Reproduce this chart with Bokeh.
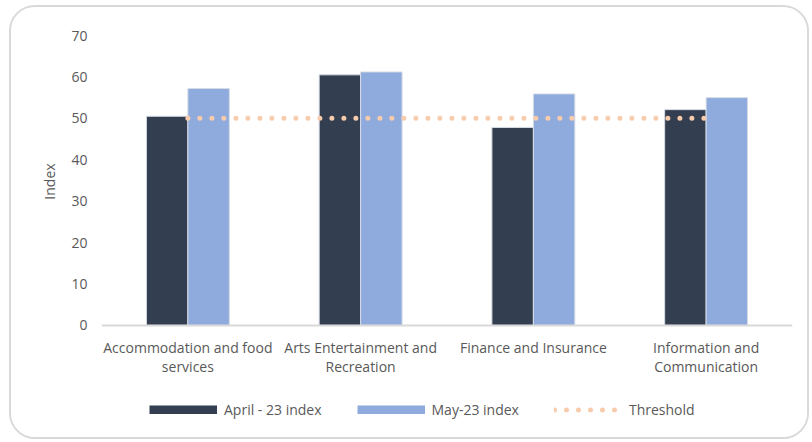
from bokeh.plotting import figure
from bokeh.models import (ColumnDataSource, Range1d, FactorRange, Legend, LegendItem,
                          LabelSet, Span)
from bokeh.core.properties import value
from bokeh.layouts import column
from bokeh.transform import dodge
from bokeh.embed import file_html
from bokeh.resources import INLINE

categories = ["Accommodation and food\nservices", "Arts Entertainment and\nRecreation",
              "Finance and Insurance", "Information and\nCommunication"]
april_23 = [50.5, 60.5, 47.8, 52.1]
may_23 = [57.2, 61.2, 55.9, 55.0]
threshold = [50, 50, 50, 50]
y_ticks = [0, 10, 20, 30, 40, 50, 60, 70]

FONT = "Open Sans"
TXT = "#595959"
FS = "14px"
DARK, LIGHT, PEACH = "#333F50", "#8FAADC", "#F8CBAD"

factors = [c.replace("\n", " ") for c in categories]
first_line = [c.split("\n")[0] for c in categories]
second_line = [c.split("\n")[1] if "\n" in c else "" for c in categories]
src = ColumnDataSource(dict(cat=factors, l1=first_line, l2=second_line,
                            apr=april_23, may=may_23, thr=threshold))
xr = FactorRange(*factors)

# ---- main chart
p = figure(width=796, height=328, x_range=xr, y_range=Range1d(-0.5, 70),
           output_backend="svg", toolbar_location=None,
           min_border_left=90, min_border_right=15, min_border_top=28, min_border_bottom=8)
p.vbar(x=dodge("cat", -0.12, range=xr), top="apr", width=0.24, source=src,
       fill_color=DARK, line_color="#D6DCE5", line_width=1)
p.vbar(x=dodge("cat", 0.12, range=xr), top="may", width=0.24, source=src,
       fill_color=LIGHT, line_color="#D6DCE5", line_width=1)
p.line(x="cat", y="thr", source=src, line_color=PEACH, line_width=5,
       line_dash="0 12", line_cap="round")
p.add_layout(Span(location=0, dimension="width", line_color="#D9D9D9", line_width=2))

p.outline_line_color = None
p.grid.grid_line_color = None
p.xaxis.visible = False

p.yaxis.ticker = y_ticks
p.yaxis.axis_line_color = None
p.yaxis.major_tick_line_color = None
p.yaxis.minor_tick_line_color = None
p.yaxis.major_tick_out = 0
p.yaxis.minor_tick_out = 0
p.yaxis.major_label_text_font = FONT
p.yaxis.major_label_text_font_size = FS
p.yaxis.major_label_text_color = TXT
p.yaxis.major_label_standoff = 14
p.yaxis.axis_label = "Index"
p.yaxis.axis_label_text_font = FONT
p.yaxis.axis_label_text_font_size = FS
p.yaxis.axis_label_text_font_style = "normal"
p.yaxis.axis_label_text_color = TXT
p.yaxis.axis_label_standoff = 9

# ---- category labels + legend strip
q = figure(width=796, height=102, x_range=xr, y_range=Range1d(0, 1),
           output_backend="svg", toolbar_location=None,
           min_border_left=90, min_border_right=15, min_border_top=0, min_border_bottom=0)
q.extra_y_ranges = {"hidden": Range1d(1000, 1001)}
r1 = q.line(x="cat", y="apr", source=src, line_color=DARK, line_width=9, y_range_name="hidden")
r2 = q.line(x="cat", y="may", source=src, line_color=LIGHT, line_width=9, y_range_name="hidden")
r3 = q.line(x="cat", y="thr", source=src, line_color=PEACH, line_width=5,
            line_dash="0 12", line_cap="round", y_range_name="hidden")
q.outline_line_color = None
q.grid.grid_line_color = None
q.axis.visible = False

common = dict(x="cat", y_units="screen", source=src, text_align="center",
              text_baseline="middle", text_font=value(FONT), text_font_size=FS,
              text_color=TXT)
q.add_layout(LabelSet(y=90, text="l1", **common))
q.add_layout(LabelSet(y=71, text="l2", **common))

legend = Legend(items=[LegendItem(label="April - 23 index", renderers=[r1]),
                       LegendItem(label="May-23 index", renderers=[r2]),
                       LegendItem(label="Threshold", renderers=[r3])],
                orientation="horizontal", location=(48, 18),
                glyph_width=68, glyph_height=9, label_standoff=7, spacing=35,
                label_text_font=FONT, label_text_font_size=FS, label_text_color=TXT,
                border_line_color=None, background_fill_alpha=0, margin=0, padding=0)
q.add_layout(legend)

layout = column(p, q, spacing=0, margin=(5, 0, 0, 9),
                styles={"border": "2px solid #D9D9D9", "border-radius": "26px",
                        "overflow": "hidden", "background": "white"})

open("out.html", "w").write(file_html(layout, INLINE))
